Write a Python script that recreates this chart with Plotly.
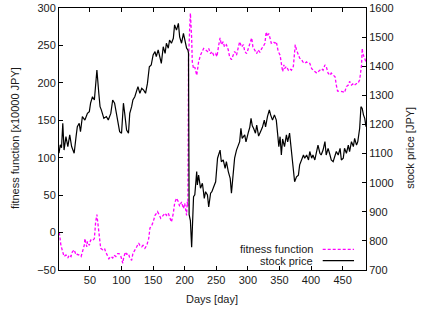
import plotly.graph_objects as go

# ---- data ----
fit_days = [1, 2, 4, 7, 9, 12, 15, 17, 20, 22, 25, 28, 30, 33, 36, 38, 41, 42, 45, 46, 49, 51, 54, 57, 58, 59, 61, 63, 65, 67, 70, 73, 75, 78, 80, 83, 86, 88, 91, 94, 96, 99, 102, 103, 106, 108, 111, 113, 116, 118, 122, 124, 127, 129, 132, 134, 137, 140, 143, 145, 148, 150, 153, 155, 157, 160, 162, 166, 169, 171, 174, 176, 179, 182, 184, 187, 190, 192, 195, 198, 200, 203, 204, 205, 206, 208, 209, 211, 212, 214, 216, 219, 220, 222, 225, 228, 230, 233, 236, 238, 241, 243, 246, 249, 251, 254, 256, 258, 261, 263, 266, 269, 271, 274, 277, 279, 282, 285, 287, 290, 293, 295, 298, 300, 303, 306, 308, 311, 314, 316, 319, 322, 324, 327, 329, 331, 333, 335, 337, 340, 343, 345, 348, 351, 353, 355, 357, 358, 361, 364, 366, 369, 372, 373, 375, 377, 379, 382, 385, 387, 390, 393, 395, 398, 401, 403, 406, 409, 411, 414, 417, 419, 422, 424, 427, 430, 432, 435, 438, 440, 442, 445, 448, 451, 453, 456, 459, 461, 464, 467, 469, 472, 474, 477, 480, 481, 482, 485, 487]
fit_vals = [0, -3, -17, -26, -32, -30, -34, -30, -32, -26, -23, -30, -29, -30, -32, -26, -17, -8, -19, -12, -17, -10, -11, -8, 6, 14, 24, 6, -12, -21, -23, -21, -26, -32, -35, -32, -34, -30, -32, -28, -28, -32, -41, -35, -26, -29, -28, -34, -37, -28, -23, -19, -14, -17, -19, -17, -21, -17, -8, 6, 10, 14, 23, 26, 28, 23, 19, 23, 26, 23, 26, 21, 14, 26, 39, 46, 41, 35, 41, 32, 39, 23, 41, 35, 230, 275, 293, 260, 228, 219, 221, 210, 217, 228, 237, 242, 246, 244, 242, 246, 239, 242, 237, 239, 235, 251, 260, 251, 255, 248, 251, 244, 235, 231, 237, 242, 237, 246, 255, 248, 251, 242, 239, 244, 251, 260, 248, 244, 239, 244, 241, 246, 248, 253, 268, 262, 266, 260, 253, 255, 253, 255, 242, 237, 228, 215, 224, 219, 222, 217, 219, 217, 222, 237, 251, 244, 240, 233, 231, 228, 226, 228, 226, 226, 219, 217, 215, 213, 215, 217, 219, 217, 224, 222, 213, 210, 213, 210, 208, 197, 189, 189, 189, 188, 187, 195, 197, 202, 197, 199, 197, 199, 199, 204, 224, 246, 239, 233, 228]

price_days = [1, 3, 5, 7, 9, 12, 15, 18, 21, 25, 28, 30, 33, 35, 38, 42, 46, 49, 51, 54, 57, 59, 61, 64, 66, 68, 72, 76, 79, 83, 86, 89, 92, 95, 97, 100, 103, 105, 108, 111, 113, 116, 118, 121, 124, 126, 129, 132, 135, 138, 141, 144, 147, 150, 153, 155, 158, 161, 163, 166, 169, 171, 174, 176, 179, 182, 184, 187, 190, 192, 195, 198, 200, 203, 205, 206, 207, 209, 211, 212, 214, 216, 219, 220, 222, 225, 228, 231, 233, 236, 238, 241, 243, 247, 249, 252, 256, 258, 261, 264, 266, 269, 272, 274, 277, 279, 282, 285, 287, 289, 291, 295, 297, 301, 303, 305, 307, 309, 312, 314, 317, 320, 323, 326, 328, 331, 334, 336, 339, 342, 345, 347, 349, 351, 353, 355, 358, 361, 363, 366, 369, 371, 374, 377, 380, 382, 385, 388, 390, 393, 396, 398, 401, 403, 406, 409, 411, 414, 416, 419, 422, 424, 427, 430, 432, 435, 438, 440, 443, 446, 448, 451, 453, 456, 459, 461, 464, 467, 469, 472, 474, 477, 479, 481, 483, 485, 487]
price_vals = [1101, 1130, 1120, 1204, 1112, 1158, 1124, 1164, 1124, 1101, 1158, 1192, 1204, 1175, 1227, 1215, 1238, 1244, 1273, 1295, 1284, 1341, 1387, 1307, 1261, 1250, 1221, 1227, 1215, 1238, 1284, 1273, 1238, 1204, 1175, 1170, 1273, 1238, 1181, 1170, 1238, 1261, 1284, 1295, 1318, 1330, 1307, 1324, 1318, 1307, 1341, 1398, 1404, 1439, 1450, 1433, 1456, 1427, 1410, 1467, 1444, 1479, 1462, 1490, 1479, 1496, 1542, 1524, 1547, 1501, 1479, 1513, 1496, 1462, 1456, 1445, 890, 870, 778, 843, 952, 958, 1038, 992, 1026, 981, 998, 946, 969, 958, 917, 964, 969, 992, 1003, 1084, 1112, 1072, 1078, 1049, 1072, 1038, 1015, 964, 1038, 1084, 1112, 1129, 1141, 1187, 1152, 1164, 1140, 1175, 1190, 1221, 1195, 1187, 1170, 1198, 1160, 1175, 1190, 1215, 1192, 1227, 1250, 1233, 1215, 1233, 1215, 1170, 1124, 1158, 1095, 1150, 1124, 1164, 1140, 1170, 1112, 1084, 1003, 1020, 1026, 1061, 1078, 1095, 1084, 1095, 1078, 1107, 1084, 1095, 1078, 1118, 1129, 1101, 1095, 1112, 1141, 1095, 1118, 1095, 1078, 1072, 1090, 1107, 1095, 1118, 1078, 1084, 1118, 1101, 1129, 1107, 1141, 1124, 1152, 1129, 1141, 1187, 1261, 1255, 1233, 1221, 1192]

x_ticks = [50, 100, 150, 200, 250, 300, 350, 400, 450]
series_names = ["fitness function", "stock price"]
x_title = "Days [day]"
y_title = "fitness function [x10000 JPY]"
y2_title = "stock price [JPY]"

FONT = "Liberation Sans, Arial, Helvetica, sans-serif"
TXT = "#1a1a1a"

fig = go.Figure()
fig.add_trace(go.Scatter(x=fit_days, y=fit_vals, mode="lines", name=series_names[0],
                         line=dict(color="#ff00ff", width=1.3, dash="3px,2px"), yaxis="y"))
fig.add_trace(go.Scatter(x=price_days, y=price_vals, mode="lines", name=series_names[1],
                         line=dict(color="black", width=1.2), yaxis="y2"))

axis_common = dict(showgrid=False, zeroline=False, showline=True, linecolor="black", linewidth=1,
                   ticks="inside", ticklen=4, tickcolor="black", automargin=False,
                   tickfont=dict(family=FONT, size=11, color=TXT))

fig.update_layout(
    width=422, height=310,
    margin=dict(l=59, r=56, t=8, b=40),
    paper_bgcolor="white", plot_bgcolor="white",
    showlegend=False,
    font=dict(family=FONT, size=11, color=TXT),
    xaxis=dict(range=[1, 487], tickvals=x_ticks, mirror="ticks", **axis_common),
    yaxis=dict(range=[-50, 300], dtick=50, tick0=0, mirror=True, **axis_common),
    yaxis2=dict(range=[700, 1600], dtick=100, tick0=700, overlaying="y", side="right", **axis_common),
)

# axis titles placed as in the reference
title_font = dict(family=FONT, size=11, color=TXT)
fig.add_annotation(x=0.498, y=-0.111, xref="paper", yref="paper", text=x_title, showarrow=False,
                   xanchor="center", yanchor="middle", font=title_font)
fig.add_annotation(x=-0.143, y=0.504, xref="paper", yref="paper", text=y_title, showarrow=False,
                   textangle=-90, xanchor="center", yanchor="middle", font=title_font)
fig.add_annotation(x=1.143, y=0.466, xref="paper", yref="paper", text=y2_title, showarrow=False,
                   textangle=-90, xanchor="center", yanchor="middle", font=title_font)

# legend drawn gnuplot-style: text on the left, sample on the right
legend_rows = [(0.079, series_names[0], dict(color="#ff00ff", width=1.3, dash="3px,2px")),
               (0.036, series_names[1], dict(color="black", width=1.2))]
for ypos, label, ln in legend_rows:
    fig.add_annotation(x=0.834, y=ypos, xref="paper", yref="paper", text=label, showarrow=False,
                       xanchor="right", yanchor="middle", font=title_font)
    fig.add_shape(type="line", xref="paper", yref="paper", x0=0.859, x1=0.961, y0=ypos, y1=ypos, line=ln)

fig.write_html("out.html", config={"displayModeBar": False},
               post_script="document.body.style.margin='0px';document.body.style.overflow='hidden';")
